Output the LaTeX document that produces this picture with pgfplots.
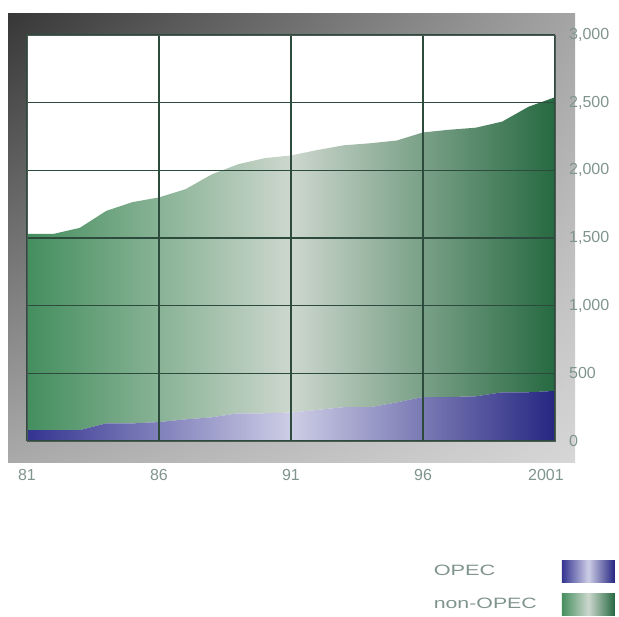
\documentclass[border=0pt]{standalone}
\usepackage{pgfplots}
\pgfplotsset{compat=1.18}
\usetikzlibrary{shadings}
\usepackage{graphicx}
\usepackage{fontspec}
\setmainfont{Liberation Sans}
\definecolor{lblcol}{RGB}{128,148,142}
\definecolor{gridcol}{RGB}{45,75,60}
\definecolor{gL}{RGB}{68,142,94}
\definecolor{gM}{RGB}{205,215,205}
\definecolor{gR}{RGB}{38,105,65}
\definecolor{bL}{RGB}{52,52,145}
\definecolor{bM}{RGB}{205,205,230}
\definecolor{bR}{RGB}{38,38,130}
\definecolor{fUL}{RGB}{55,55,55}
\definecolor{fUR}{RGB}{165,165,165}
\definecolor{fLL}{RGB}{170,170,170}
\definecolor{fLR}{RGB}{215,215,215}
\begin{document}
\begin{tikzpicture}[x=1pt,y=1pt]
\useasboundingbox (0,0) rectangle (619,617);
\shade[upper left=fUL, upper right=fUR, lower left=fLL, lower right=fLR]
  (8,154) rectangle (575,603);
\begin{axis}[
  at={(27pt,176pt)}, anchor=south west,
  scale only axis, width=528pt, height=406pt,
  xmin=1981, xmax=2001, ymin=0, ymax=3000,
  stack plots=y,
  axis on top=true,
  axis background/.style={fill=white},
  axis line style={draw={rgb,255:red,80;green,90;blue,85}, line width=0.8pt},
  xtick={1981,1986,1991,1996,2001},
  xticklabels={81,86,91,96,{2001\kern18pt}},
  ytick={0,500,1000,1500,2000,2500,3000},
  yticklabels={0,500,{1,000},{1,500},{2,000},{2,500},{3,000}},
  yticklabel pos=right,
  major tick length=0pt,
  grid=major,
  major grid style={draw=gridcol, line width=1.3pt},
  xticklabel style={font=\fontsize{16pt}{19pt}\selectfont, text=lblcol, anchor=north, inner sep=0pt, yshift=-28pt},
  yticklabel style={font=\fontsize{16pt}{19pt}\selectfont, text=lblcol, anchor=west, inner sep=0pt, xshift=14pt},
  legend plot pos=right,
  legend cell align=left,
  legend image code/.code={\path[#1] (0pt,-11pt) rectangle (53pt,11pt);},
  legend style={at={(1,0)}, anchor=north east, xshift=60pt, yshift=-119pt,
    draw=none, fill=none, inner sep=0pt, row sep=11pt, column sep=25pt,
    font=\fontsize{15pt}{18pt}\selectfont, text=lblcol,
    nodes={inner sep=0pt}},
]
\addplot[draw=none, left color=bL, right color=bR, middle color=bM] coordinates {
(1981,80) (1982,80) (1983,80) (1984,130) (1985,130) (1986,140) (1987,160)
(1988,175) (1989,205) (1990,205) (1991,210) (1992,230) (1993,250) (1994,250)
(1995,285) (1996,325) (1997,325) (1998,330) (1999,360) (2000,360) (2001,370)
} \closedcycle;
\addlegendentry{\scalebox{1.45}[1]{OPEC}}
\addplot[draw=none, left color=gL, right color=gR, middle color=gM] coordinates {
(1981,1450) (1982,1450) (1983,1495) (1984,1570) (1985,1635) (1986,1660) (1987,1700)
(1988,1795) (1989,1840) (1990,1885) (1991,1900) (1992,1920) (1993,1935) (1994,1950)
(1995,1935) (1996,1955) (1997,1975) (1998,1985) (1999,2000) (2000,2110) (2001,2170)
} \closedcycle;
\addlegendentry{\scalebox{1.42}[1]{non-OPEC}}
\end{axis}
\end{tikzpicture}
\end{document}
